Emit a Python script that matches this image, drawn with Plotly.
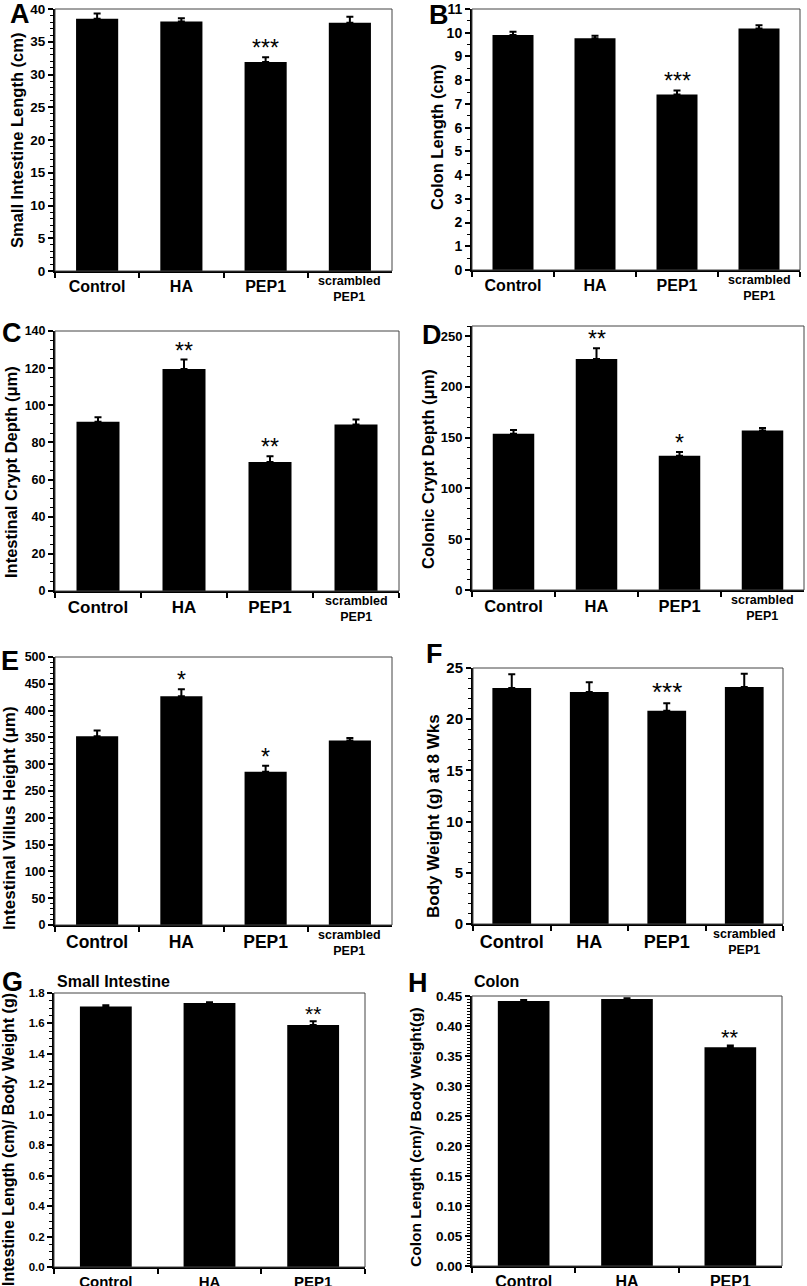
import plotly.graph_objects as go

W, H = 807, 1286
FONT = "Liberation Sans, Arial, sans-serif"

# ---------------- data ----------------
groups4 = ["Control", "HA", "PEP1", "scrambled PEP1"]
groups3 = ["Control", "HA", "PEP1"]
ticks4 = ["Control", "HA", "PEP1", ""]
ticks3 = ["Control", "HA", "PEP1"]
scr_label = "scrambled<br>PEP1"

a_mean = [38.5, 38.1, 31.9, 37.9]
a_err = [0.8, 0.5, 0.75, 0.9]
a_sig = ["", "", "***", ""]

b_mean = [9.90, 9.77, 7.40, 10.18]
b_err = [0.14, 0.10, 0.17, 0.14]
b_sig = ["", "", "***", ""]

c_mean = [91.2, 119.5, 69.5, 89.7]
c_err = [2.3, 5.1, 3.0, 2.7]
c_sig = ["", "**", "**", ""]

d_mean = [154.0, 227.6, 132.2, 157.2]
d_err = [3.6, 10.6, 3.7, 2.3]
d_sig = ["", "**", "*", ""]

e_mean = [352.0, 427.0, 286.0, 344.0]
e_err = [11.0, 13.0, 11.0, 5.0]
e_sig = ["", "*", "*", ""]

f_mean = [23.05, 22.66, 20.83, 23.14]
f_err = [1.35, 0.95, 0.72, 1.30]
f_sig = ["", "", "***", ""]

g_mean = [1.712, 1.734, 1.590]
g_err = [0.007, 0.005, 0.024]
g_sig = ["", "", "**"]

h_mean = [0.4417, 0.4451, 0.3646]
h_err = [0.0017, 0.0010, 0.0028]
h_sig = ["", "", "**"]

# ---------------- panel layout (pixel boxes: left, top, right, bottom) ----------------
panels = [
    dict(cats=groups4, ticks=ticks4, mean=a_mean, err=a_err, sig=a_sig, box=(55, 9, 392, 271),
         yr=[0, 40], dt=5, mdt=1, fmt="", ytf=13.5, xtf=16, star=23,
         title="Small Intestine Length (cm)", tx=17, ty=141, tfs=16.5, letter="A", lx=20, ly=14),
    dict(cats=groups4, ticks=ticks4, mean=b_mean, err=b_err, sig=b_sig, box=(472, 9, 800, 270),
         yr=[0, 11], dt=1, mdt=0.5, fmt="", ytf=14, xtf=16, star=23,
         title="Colon Length (cm)", tx=437, ty=137, tfs=16.5, letter="B", lx=439, ly=15),
    dict(cats=groups4, ticks=ticks4, mean=c_mean, err=c_err, sig=c_sig, box=(55, 331, 399, 591),
         yr=[0, 140], dt=20, mdt=5, fmt="", ytf=12.5, xtf=17, star=23,
         title="Intestinal Crypt Depth (μm)", tx=11, ty=472, tfs=16.5, letter="C", lx=12, ly=333),
    dict(cats=groups4, ticks=ticks4, mean=d_mean, err=d_err, sig=d_sig, box=(472, 326, 804, 590),
         yr=[0, 260], dt=50, mdt=10, fmt="", ytf=13, xtf=16.5, star=23,
         title="Colonic Crypt Depth (μm)", tx=428, ty=469, tfs=16.5, letter="D", lx=432, ly=335),
    dict(cats=groups4, ticks=ticks4, mean=e_mean, err=e_err, sig=e_sig, box=(55, 657, 392, 925),
         yr=[0, 500], dt=50, mdt=10, fmt="", ytf=12.5, xtf=17.5, star=23,
         title="Intestinal Villus Height (μm)", tx=9, ty=818, tfs=17, letter="E", lx=10, ly=661),
    dict(cats=groups4, ticks=ticks4, mean=f_mean, err=f_err, sig=f_sig, box=(473, 668, 783, 924),
         yr=[0, 25], dt=5, mdt=1, fmt="", ytf=15, xtf=18, star=26,
         title="Body Weight (g) at 8 Wks", tx=433, ty=816, tfs=17, letter="F", lx=435, ly=654),
    dict(cats=groups3, ticks=ticks3, mean=g_mean, err=g_err, sig=g_sig, box=(54, 993, 365, 1267),
         yr=[0, 1.8], dt=0.2, mdt=0.05, fmt=".1f", ytf=11.5, xtf=15, star=21,
         title="Intestine Length (cm)/ Body Weight (g)", tx=8, ty=1140, tfs=16, letter="G", lx=13, ly=982,
         sub="Small Intestine", sx=55, sy=981),
    dict(cats=groups3, ticks=ticks3, mean=h_mean, err=h_err, sig=h_sig, box=(472, 996, 782, 1266),
         yr=[0, 0.45], dt=0.05, mdt=0.005, fmt=".2f", ytf=13.5, xtf=16, star=22,
         title="Colon Length (cm)/ Body Weight(g)", tx=415, ty=1137, tfs=15.5, letter="H", lx=418, ly=983,
         sub="Colon", sx=472, sy=981),
]

fig = go.Figure()
layout = dict(width=W, height=H, margin=dict(l=0, r=0, t=0, b=0, autoexpand=False),
              paper_bgcolor="white", plot_bgcolor="white", showlegend=False,
              font=dict(family=FONT, color="black"))
annotations = []
shapes = []

for i, p in enumerate(panels):
    k = i + 1
    xa = "x" if k == 1 else f"x{k}"
    ya = "y" if k == 1 else f"y{k}"
    l, t, r, b = p["box"]
    n = len(p["cats"])
    fig.add_trace(go.Bar(
        x=p["cats"], y=p["mean"], xaxis=xa, yaxis=ya, width=0.5,
        marker=dict(color="black", line=dict(width=0)),
        error_y=dict(type="data", array=p["err"], arrayminus=[0] * n, symmetric=False,
                     color="black", thickness=2, width=3.5),
    ))
    layout[f"xaxis{k}"] = dict(
        domain=[l / W, r / W], anchor=ya, type="category", range=[-0.5, n - 0.5],
        tickmode="array", tickvals=p["cats"], ticktext=p["ticks"], tickson="boundaries",
        ticks="outside", ticklen=5, tickwidth=1.5, tickcolor="black",
        showline=True, linecolor="black", linewidth=2, showgrid=False, zeroline=False,
        automargin=False,
        tickfont=dict(family=FONT, size=p["xtf"], color="black", weight="bold"), fixedrange=True,
    )
    layout[f"yaxis{k}"] = dict(
        domain=[1 - b / H, 1 - t / H], anchor=xa, range=p["yr"], dtick=p["dt"], tick0=0,
        tickformat=p["fmt"], ticks="outside", ticklen=5, tickwidth=1.5, tickcolor="black",
        minor=dict(dtick=p["mdt"], ticks="outside", ticklen=3, tickwidth=1, tickcolor="black", showgrid=False),
        showline=True, linecolor="black", linewidth=2, showgrid=False, zeroline=False,
        automargin=False,
        tickfont=dict(family=FONT, size=p["ytf"], color="black", weight="bold"), fixedrange=True,
    )
    # frame (top/right)
    shapes.append(dict(type="rect", xref=f"{xa} domain", yref=f"{ya} domain", x0=0, x1=1, y0=0, y1=1,
                       line=dict(color="#444", width=1), layer="above"))
    # two-line, smaller label for the scrambled group
    if "scrambled PEP1" in p["cats"]:
        annotations.append(dict(x="scrambled PEP1", y=0, xref=xa, yref=f"{ya} domain",
                                text=scr_label, showarrow=False, yanchor="top", yshift=-1,
                                font=dict(family=FONT, size=12.5, color="black", weight="bold")))
    # significance stars
    for c, m, e, s in zip(p["cats"], p["mean"], p["err"], p["sig"]):
        if s:
            annotations.append(dict(x=c, y=m + e, xref=xa, yref=ya, text=s, showarrow=False,
                                    yanchor="bottom", yshift=-6,
                                    font=dict(family=FONT, size=p["star"], color="black")))
    # y-axis title
    annotations.append(dict(x=p["tx"] / W, y=1 - p["ty"] / H, xref="paper", yref="paper",
                            text=p["title"], textangle=-90, showarrow=False,
                            xanchor="center", yanchor="middle",
                            font=dict(family=FONT, size=p["tfs"], color="black", weight="bold")))
    # panel letter
    annotations.append(dict(x=p["lx"] / W, y=1 - p["ly"] / H, xref="paper", yref="paper",
                            text=p["letter"], showarrow=False, xanchor="center", yanchor="middle",
                            font=dict(family=FONT, size=27, color="black", weight="bold")))
    if "sub" in p:
        annotations.append(dict(x=p["sx"] / W, y=1 - p["sy"] / H, xref="paper", yref="paper",
                                text=p["sub"], showarrow=False, xanchor="left", yanchor="middle",
                                font=dict(family=FONT, size=16, color="black", weight="bold")))

layout["annotations"] = annotations
layout["shapes"] = shapes
fig.update_layout(**layout)
fig.write_html("out.html", config={"displayModeBar": False},
               post_script="document.body.style.margin='0px';document.body.style.overflow='hidden';")
